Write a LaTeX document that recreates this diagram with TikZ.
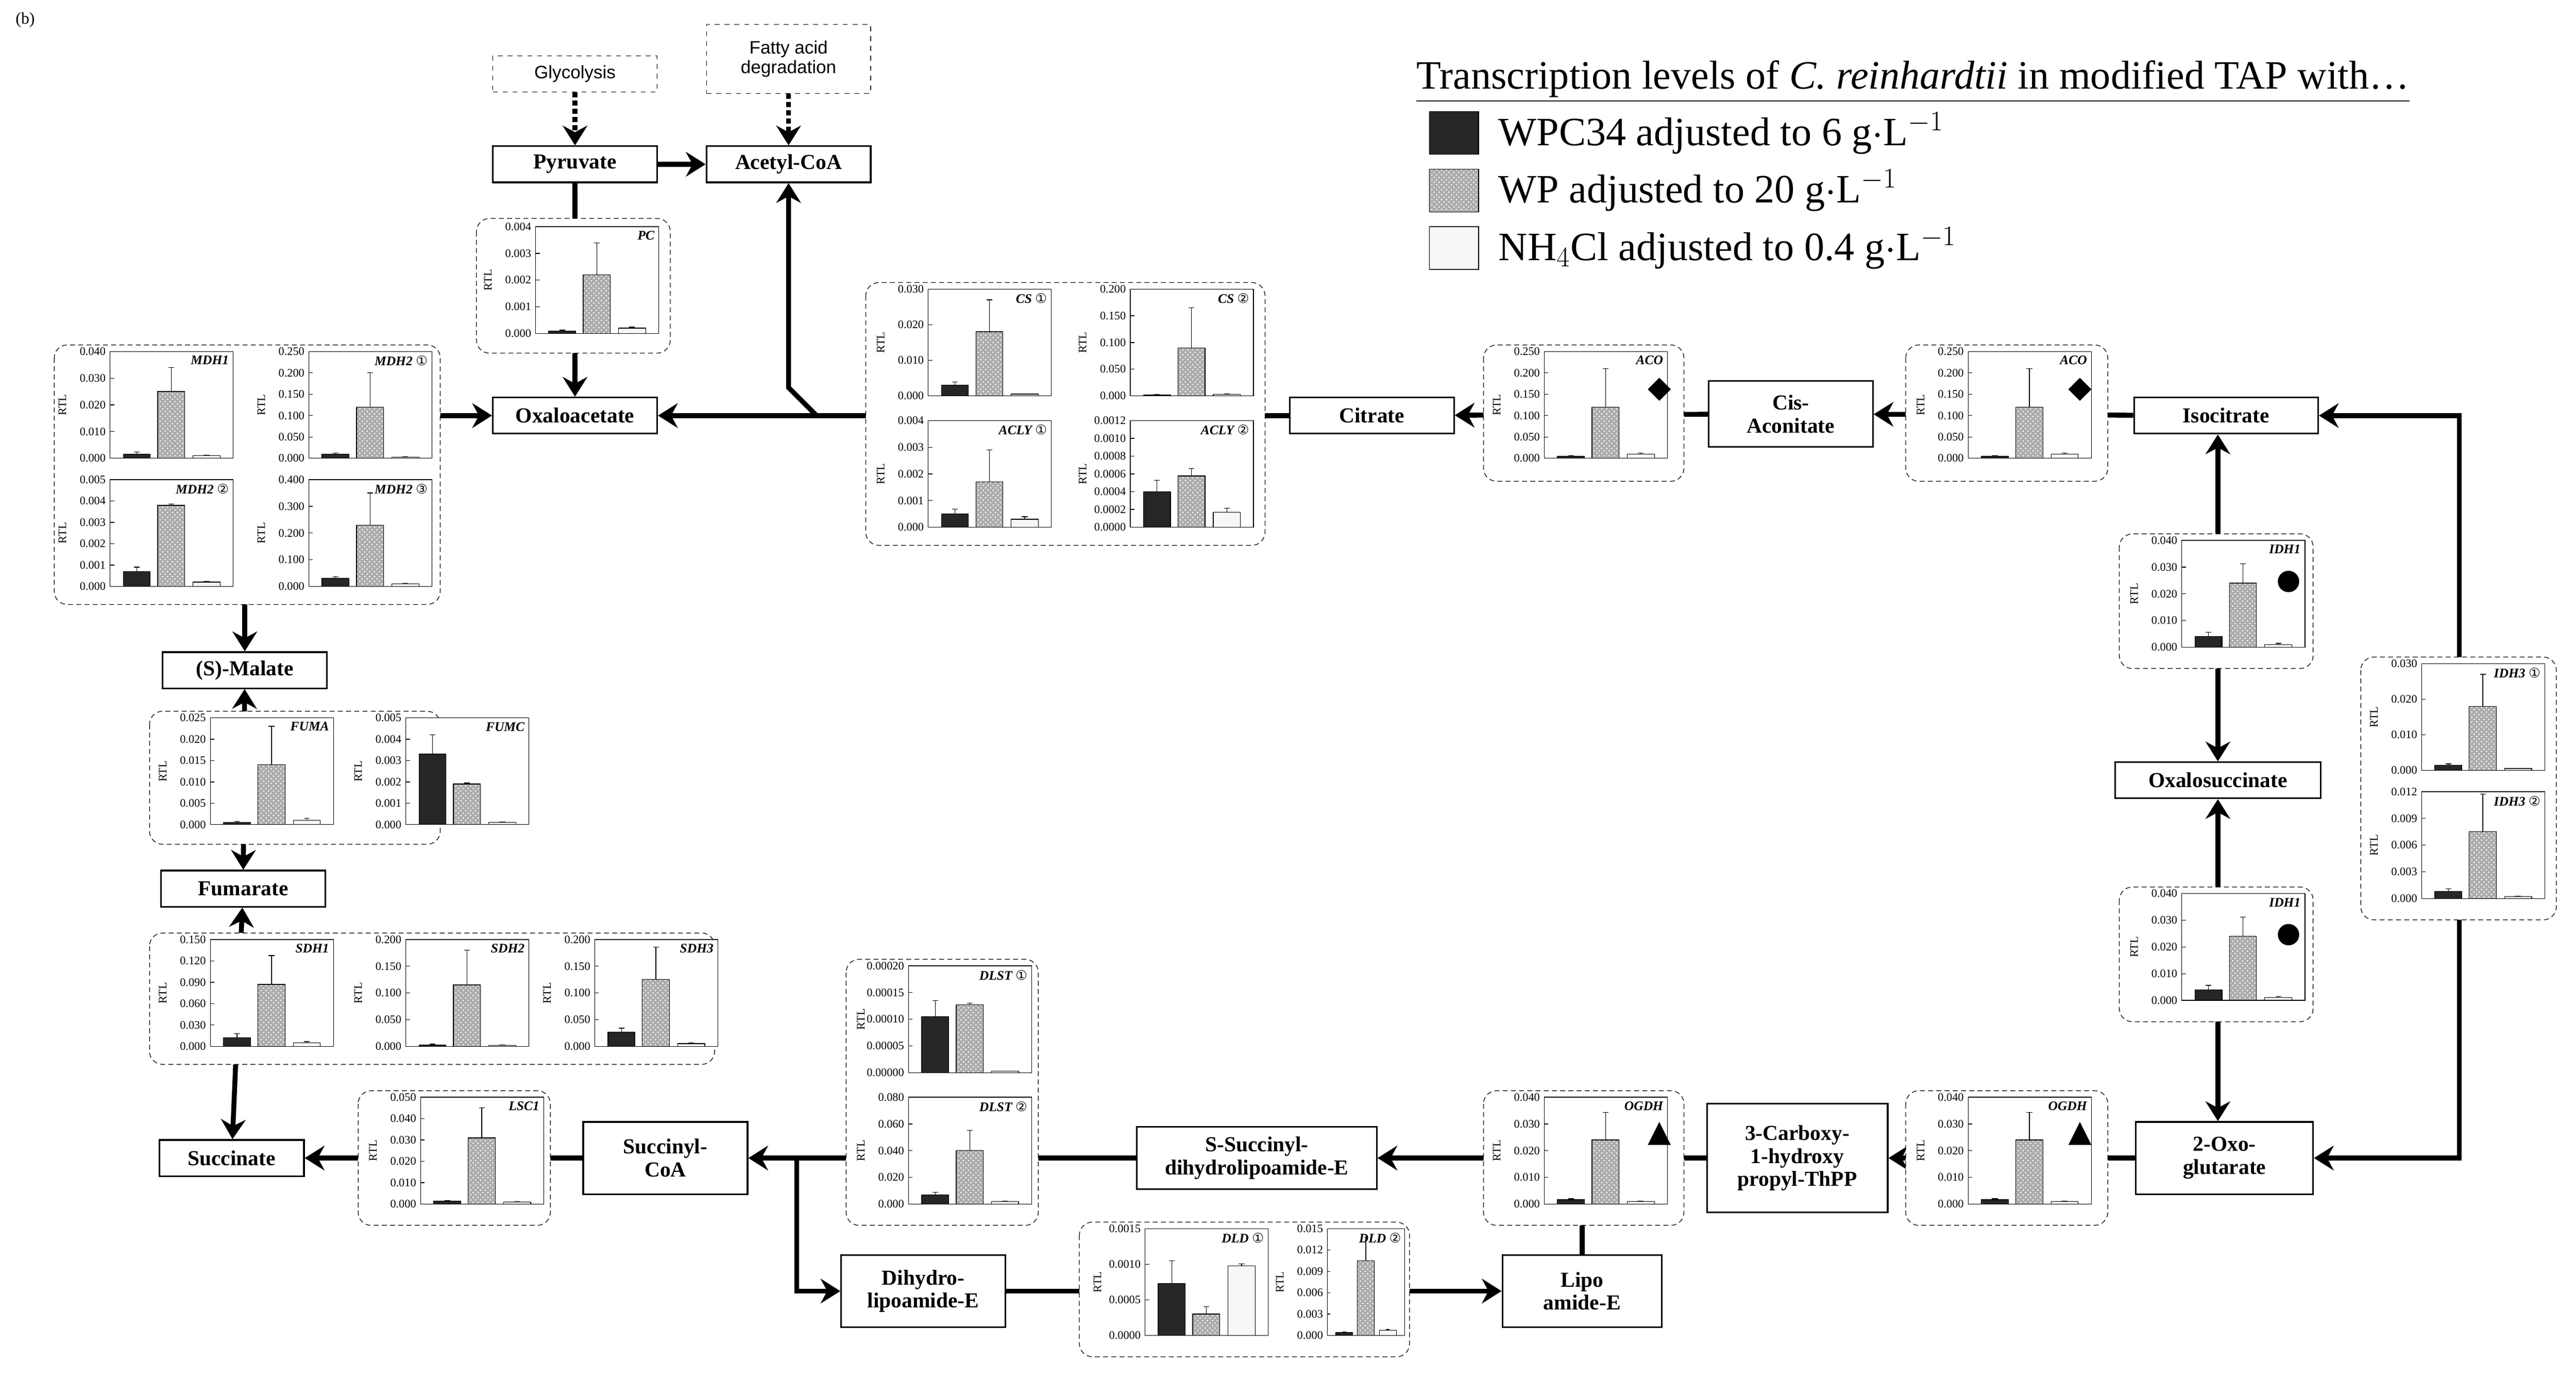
\documentclass[tikz,border=0pt]{standalone}
\usepackage{fontspec}
\setmainfont{Liberation Serif}
\newfontfamily\sansf{Liberation Sans}
\newfontfamily\djv{DejaVu Sans}
\usetikzlibrary{arrows.meta,patterns,calc}
\newcommand\cn[1]{{\djv\fontsize{8}{8}\selectfont\upshape\mdseries #1}}
\tikzset{
 box/.style={draw,line width=1pt,minimum height=22pt,font=\fontsize{13}{14}\selectfont\bfseries,align=center,inner sep=2pt,fill=white},
 dbox/.style={draw,dashed,minimum height=22pt,minimum width=100pt,font=\sansf\fontsize{11}{12}\selectfont,align=center,inner sep=2pt},
 arr/.style={line width=3pt,-{Stealth[length=12pt,width=15pt,inset=4pt]}},
 arrb/.style={line width=3pt,{Stealth[length=12pt,width=15pt,inset=4pt]}-{Stealth[length=12pt,width=15pt,inset=4pt]}},
 plain/.style={line width=3pt},
 cont/.style={draw,densely dashed,thin,rounded corners=8pt,fill=white},
 tk/.style={font=\fontsize{7}{8}\selectfont,inner sep=0.5pt},
 gn/.style={font=\fontsize{8}{9}\selectfont\bfseries\itshape,inner sep=1pt,anchor=north east},
 lg/.style={anchor=west,font=\fontsize{24.5}{26}\selectfont,inner sep=0pt},
}
\def\cw{75}
\newcommand\bc[6]{%
\begin{scope}[shift={(#1,#2)}]
\foreach \t [count=\i from 0] in {#4}{\pgfmathsetmacro\yy{65-\i*65/(#5-1)}
 \node[tk,anchor=east] at (-2,\yy) {\t};}
\node[tk,rotate=90] at (-29,32.5) {RTL};
\begin{scope}[xscale=\cw/75]
\fill[white] (0,0) rectangle (75,65);
\foreach \t [count=\i from 0] in {#4}{\pgfmathsetmacro\yy{65-\i*65/(#5-1)}
 \draw[thin] (0,\yy) -- (2.5,\yy);}
\foreach \a/\b/\c/\d/\e/\f in {#6}{%
 \fill[black!85] (8,65) rectangle (24.5,{65-65*\a});
 \draw[thin] (8,65) rectangle (24.5,{65-65*\a});
 \fill[gray!65] (29,65) rectangle (45.5,{65-65*\c});
 \fill[pattern=crosshatch dots,pattern color=white] (29,65) rectangle (45.5,{65-65*\c});
 \draw[thin] (29,65) rectangle (45.5,{65-65*\c});
 \fill[gray!6] (50.5,65) rectangle (67,{65-65*\e});
 \draw[thin] (50.5,65) rectangle (67,{65-65*\e});
 \draw[thin] (16.25,{65-65*\a}) -- (16.25,{65-65*\b}) (14.5,{65-65*\b}) -- (18,{65-65*\b});
 \draw[thin] (37.25,{65-65*\c}) -- (37.25,{65-65*\d}) (35.5,{65-65*\d}) -- (39,{65-65*\d});
 \draw[thin] (58.75,{65-65*\e}) -- (58.75,{65-65*\f}) (57,{65-65*\f}) -- (60.5,{65-65*\f});
}
\draw[thin] (0,0) rectangle (75,65);
\node[gn] at (73.5,1.5) {#3};
\end{scope}
\end{scope}}
\begin{document}
\begin{tikzpicture}[x=1pt,y=-1pt]
\useasboundingbox[fill=white] (0,0) rectangle (1568,840);
\node[anchor=north west,font=\fontsize{10}{11}\selectfont] (lab) at (6,4) {(b)};
% nodes
\node[dbox] (glyc) at (350,45) {Glycolysis};
\node[dbox,minimum height=42pt] (fatty) at (480,36) {Fatty acid\\degradation};
\node[box,minimum width=100pt] (pyr) at (350,100) {Pyruvate};
\node[box,minimum width=100pt] (acoa) at (480,100) {Acetyl-CoA};
\node[box,minimum width=100pt] (oaa) at (350,253) {Oxaloacetate};
\node[box,minimum width=100pt] (cit) at (835,253) {Citrate};
\node[box,minimum width=100pt,minimum height=40pt] (cis) at (1090,252) {Cis-\\Aconitate};
\node[box,minimum width=112pt] (iso) at (1355,253) {Isocitrate};
\node[box,minimum width=125pt] (oxs) at (1350,475) {Oxalosuccinate};
\node[box,minimum width=108pt,minimum height=44pt] (oxo) at (1354,705) {2-Oxo-\\glutarate};
\node[box,minimum width=110pt,minimum height=66pt] (carb) at (1094,705) {3-Carboxy-\\1-hydroxy\\propyl-ThPP};
\node[box,minimum width=146pt,minimum height=38pt] (ssuc) at (765,705) {S-Succinyl-\\dihydrolipoamide-E};
\node[box,minimum width=97pt,minimum height=44pt] (lipo) at (963,786) {Lipo\\amide-E};
\node[box,minimum width=100pt,minimum height=44pt] (dihy) at (562,786) {Dihydro-\\lipoamide-E};
\node[box,minimum width=100pt,minimum height=44pt] (succoa) at (405,705) {Succinyl-\\CoA};
\node[box,minimum width=88pt] (succ) at (141,705) {Succinate};
\node[box,minimum width=100pt] (fum) at (148,541) {Fumarate};
\node[box,minimum width=100pt] (mal) at (149,408) {(S)-Malate};
\coordinate (br1) at (497,253);
\coordinate (br2) at (480,236);
\coordinate (c1) at (1497,253);
\coordinate (jn) at (485,705);
% connectors
\draw[arr,dotted] (glyc) -- (pyr);
\draw[arr,dotted] (fatty) -- (acoa);
\draw[arr] (pyr) -- (acoa);
\draw[arr] (pyr) -- (oaa);
\draw[arr] (cit) -- (oaa);
\draw[arr] (br1) -- (br2) -- (br2 |- acoa.south);
\draw[arr] (cis) -- (cit);
\draw[arr] (iso) -- (cis);
\draw[arrb] (oxs.north) -- (oxs.north |- iso.south);
\draw[arrb] (oxs.south) -- (oxs.south |- oxo.north);
\draw[arrb] (iso.east) -- (c1) -- (c1 |- oxo.east) -- (oxo.east);
\draw[arr] (oxo) -- (carb);
\draw[arr] (carb) -- (ssuc);
\draw[plain] (lipo.north) -- ++(0,-40);
\draw[arr] (ssuc.west) -- (jn) -- (succoa.east);
\draw[arr] (jn) |- (dihy.west);
\draw[arr] (dihy) -- (lipo);
\draw[arr] (succoa) -- (succ);
\draw[arrb] (fum) -- (succ);
\draw[arrb] (mal) -- (fum);
\draw[arrb] (oaa.west) -| (mal.north);
% containers
\draw[cont] (33,210) rectangle (268,368);
\bc{67}{214}{MDH1}{0.000,0.010,0.020,0.030,0.040}{5}{0.04/0.06/0.625/0.85/0.025/0.03}
\bc{188}{214}{MDH2 \cn{①}}{0.000,0.050,0.100,0.150,0.200,0.250}{6}{0.04/0.05/0.48/0.8/0.012/0.015}
\bc{67}{292}{MDH2 \cn{②}}{0.000,0.001,0.002,0.003,0.004,0.005}{6}{0.14/0.18/0.76/0.77/0.04/0.045}
\bc{188}{292}{MDH2 \cn{③}}{0.000,0.100,0.200,0.300,0.400}{5}{0.075/0.09/0.575/0.875/0.025/0.03}
\draw[cont] (290,133) rectangle (408,215);
\bc{326}{138}{PC}{0.000,0.001,0.002,0.003,0.004}{5}{0.025/0.03/0.55/0.85/0.05/0.06}
\draw[cont] (527,172) rectangle (770,332);
\bc{565}{176}{CS \cn{①}}{0.000,0.010,0.020,0.030}{4}{0.1/0.13/0.6/0.9/0.017/0.02}
\bc{688}{176}{CS \cn{②}}{0.000,0.050,0.100,0.150,0.200}{5}{0.01/0.012/0.45/0.825/0.015/0.02}
\bc{565}{256}{ACLY \cn{①}}{0.000,0.001,0.002,0.003,0.004}{5}{0.125/0.17/0.425/0.725/0.075/0.1}
\bc{688}{256}{ACLY \cn{②}}{0.0000,0.0002,0.0004,0.0006,0.0008,0.0010,0.0012}{7}{0.333/0.44/0.48/0.55/0.14/0.18}
\draw[cont] (903,210) rectangle (1025,293);
\bc{940}{214}{ACO}{0.000,0.050,0.100,0.150,0.200,0.250}{6}{0.02/0.025/0.48/0.84/0.04/0.05}
\draw[cont] (1160,210) rectangle (1283,293);
\bc{1198}{214}{ACO}{0.000,0.050,0.100,0.150,0.200,0.250}{6}{0.02/0.025/0.48/0.84/0.04/0.05}
\fill (1010,230) -- (1017,237) -- (1010,244) -- (1003,237) -- cycle;
\fill (1266,230) -- (1273,237) -- (1266,244) -- (1259,237) -- cycle;
\draw[cont] (1290,325) rectangle (1408,407);
\bc{1328}{329}{IDH1}{0.000,0.010,0.020,0.030,0.040}{5}{0.1/0.14/0.6/0.78/0.025/0.035}
\fill (1393,354) circle (6.5);
\draw[cont] (1290,540) rectangle (1408,622);
\bc{1328}{544}{IDH1}{0.000,0.010,0.020,0.030,0.040}{5}{0.1/0.14/0.6/0.78/0.025/0.035}
\fill (1393,569) circle (6.5);
\draw[cont] (1437,400) rectangle (1556,560);
\bc{1474}{404}{IDH3 \cn{①}}{0.000,0.010,0.020,0.030}{4}{0.05/0.06/0.6/0.9/0.017/0.02}
\bc{1474}{482}{IDH3 \cn{②}}{0.000,0.003,0.006,0.009,0.012}{5}{0.067/0.09/0.625/0.98/0.017/0.02}
\draw[cont] (1160,664) rectangle (1283,746);
\bc{1198}{668}{OGDH}{0.000,0.010,0.020,0.030,0.040}{5}{0.04/0.05/0.6/0.86/0.025/0.03}
\fill (1266,683) -- (1273,697) -- (1259,697) -- cycle;
\draw[cont] (903,664) rectangle (1025,746);
\bc{940}{668}{OGDH}{0.000,0.010,0.020,0.030,0.040}{5}{0.04/0.05/0.6/0.86/0.025/0.03}
\fill (1010,683) -- (1017,697) -- (1003,697) -- cycle;
\draw[cont] (515,584) rectangle (632,746);
\bc{553}{588}{DLST \cn{①}}{0.00000,0.00005,0.00010,0.00015,0.00020}{5}{0.525/0.675/0.635/0.65/0.012/0.015}
\bc{553}{668}{DLST \cn{②}}{0.000,0.020,0.040,0.060,0.080}{5}{0.0875/0.11/0.5/0.69/0.025/0.03}
\draw[cont] (657,744) rectangle (858,826);
\def\cw{75}
\bc{697}{748}{DLD \cn{①}}{0.0000,0.0005,0.0010,0.0015}{4}{0.487/0.7/0.2/0.27/0.653/0.67}
\def\cw{47}
\bc{808}{748}{DLD \cn{②}}{0.000,0.003,0.006,0.009,0.012,0.015}{6}{0.027/0.035/0.7/0.92/0.047/0.055}
\def\cw{75}
\draw[cont] (218,664) rectangle (335,746);
\bc{256}{668}{LSC1}{0.000,0.010,0.020,0.030,0.040,0.050}{6}{0.03/0.035/0.62/0.9/0.02/0.025}
\draw[cont] (91,568) rectangle (435,648);
\bc{128}{572}{SDH1}{0.000,0.030,0.060,0.090,0.120,0.150}{6}{0.08/0.12/0.58/0.85/0.033/0.045}
\bc{247}{572}{SDH2}{0.000,0.050,0.100,0.150,0.200}{5}{0.015/0.02/0.575/0.9/0.01/0.012}
\bc{362}{572}{SDH3}{0.000,0.050,0.100,0.150,0.200}{5}{0.135/0.17/0.625/0.93/0.025/0.03}
\draw[cont] (91,433) rectangle (268,514);
\bc{128}{437}{FUMA}{0.000,0.005,0.010,0.015,0.020,0.025}{6}{0.02/0.03/0.56/0.92/0.04/0.06}
\bc{247}{437}{FUMC}{0.000,0.001,0.002,0.003,0.004,0.005}{6}{0.66/0.84/0.38/0.39/0.02/0.025}
% legend
\node[lg] (lt) at (862,48) {Transcription levels of \textit{C. reinhardtii} in modified TAP with\dots};
\draw[thin] (lt.south west) ++(0,2) -- ($(lt.south east)+(0,2)$);
\fill[black!85] (870,68) rectangle (900,94); \draw (870,68) rectangle (900,94);
\fill[gray!65] (870,103) rectangle (900,129);
\fill[pattern=crosshatch dots,pattern color=white] (870,103) rectangle (900,129); \draw (870,103) rectangle (900,129);
\fill[gray!6] (870,138) rectangle (900,164); \draw (870,138) rectangle (900,164);
\node[lg] (l1) at (912,81) {WPC34 adjusted to 6 g$\cdot$L$^{-1}$};
\node[lg] (l2) at (912,116) {WP adjusted to 20 g$\cdot$L$^{-1}$};
\node[lg] (l3) at (912,151) {NH$_4$Cl adjusted to 0.4 g$\cdot$L$^{-1}$};
\end{tikzpicture}
\end{document}
